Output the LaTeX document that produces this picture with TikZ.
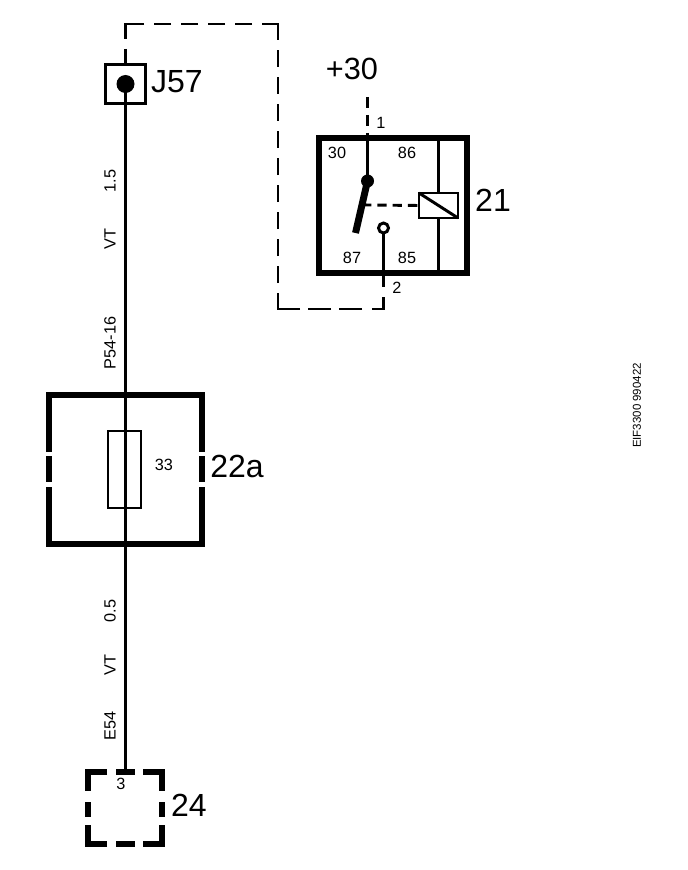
\documentclass[tikz,border=0pt]{standalone}
\usepackage{fontspec}
\setmainfont{Liberation Sans}
\usetikzlibrary{calc}

\begin{document}
\begin{tikzpicture}[x=0.75pt, y=-0.75pt, line cap=butt,
  wire/.style={line width=2.2pt},
  thin box/.style={draw, line width=2.2pt, inner sep=0pt, outer sep=0pt},
  heavy/.style={line width=4.4pt},
  link/.style={line width=2.2pt, dash pattern=on 12.75pt off 7.5pt},
  big/.style={font=\fontsize{24}{24}\selectfont, inner sep=0pt},
  pin/.style={font=\fontsize{12.2}{12.2}\selectfont, inner sep=0pt},
  side/.style={pin, rotate=90}]

\useasboundingbox (0,0) rectangle (688,870);

% --------- Main wire with connection J57 ----------
\node[thin box, line width=2.7pt, minimum width=30pt, minimum height=29.25pt] (j57) at (125.5,84) {};
\coordinate (pin3) at (125.5,772);
\draw[wire] (j57.center) -- (pin3);
\fill (j57.center) circle (9);
\node[big] (j57label) at (177,82) {J57};

% Wire data
\node[side] (size1)  at (110,181) {1.5};
\node[side] (col1)   at (110,239) {VT};
\node[side] (plug1)  at (110,343) {P54-16};
\node[side] (size2)  at (110,611) {0.5};
\node[side] (col2)   at (110,665) {VT};
\node[side] (plug2)  at (110,726) {E54};

% --------- Relay 21 ----------
\node[draw, heavy, minimum width=111pt, minimum height=101.25pt, inner sep=0pt, outer sep=0pt] (relay) at (393,205.5) {};
\coordinate (in)   at (367.5,97);
\coordinate (pivot) at (367.5,181);
\coordinate (armend) at (355.5,233);
\coordinate (armmid) at ($(pivot)!0.46!(armend)$);
\coordinate (top) at (367.5,137);
\coordinate (contact) at (383.5,228);
\coordinate (bottom) at (383.5,287);
\coordinate (turn1) at (383.5,309);
\coordinate (turn2) at (278,309);
\coordinate (turn3) at (278,24);
\coordinate (turn4) at (125.5,24);

\draw[wire, dash pattern=on 8.5pt off 5pt] (in) -- (top);
\draw[wire] (top) -- (pivot);
\fill (pivot) circle (6.5);
\draw[line width=5.2pt] (pivot) -- (armend);

% Coil
\node[thin box, minimum width=29.25pt, minimum height=18.75pt] (coil) at (438.5,205.5) {};
\draw[wire] (coil.north west) -- (coil.south east);
\draw[wire] (438.5,138) -- (coil.north);
\draw[wire] (coil.south) -- (438.5,273);
\draw[wire, dash pattern=on 7pt off 4.5pt] (armmid) -- (coil.west);

% Contact 87
\node[draw, circle, wire, minimum size=7.5pt, inner sep=0pt, outer sep=0pt] (contactring) at (contact) {};
\draw[wire] (contactring.south) -- (bottom);

\node[pin] (t30) at (337,153) {30};
\node[pin] (t86) at (407,153) {86};
\node[pin] (t87) at (352,258) {87};
\node[pin] (t85) at (407,258) {85};
\node[pin] (p1)  at (381,123) {1};
\node[pin] (p2)  at (397,288) {2};
\node[big, font=\fontsize{23}{23}\selectfont] (plus30) at (352,69) {+30};
\node[big] (rlabel) at (493,200) {21};

% --------- Dashed link from relay to J57 ----------
\draw[wire] (383.5,297) -- (turn1) -- (372,309);
\draw[wire, dash pattern=on 17.25pt off 6pt] (362,309) -- (308,309);
\draw[wire] (300,309) -- (turn2) -- (278,293);
\draw[link] (278,283) -- (278,50);
\draw[wire] (278,40) -- (turn3) -- (262,24);
\draw[link] (252,24) -- (143,24);
\draw[wire] (143,24) -- (turn4) -- (125.5,39);
\draw[wire] (125.5,49) -- (j57.north);

% --------- Fuse holder 22a ----------
\draw[heavy] (49,452) -- (49,395) -- (202,395) -- (202,452);
\draw[heavy] (49,456) -- (49,482);
\draw[heavy] (202,456) -- (202,482);
\draw[heavy] (49,487) -- (49,544) -- (202,544) -- (202,487);
\node[thin box, minimum width=24.75pt, minimum height=57.75pt] (fuse) at (124.5,469.5) {};
\node[pin] (fusenr) at (164,465) {33};
\node[big] (flabel) at (237,466) {22a};

% --------- Control unit 24 ----------
\foreach \a/\b in {88/772, 162/772, 88/844, 162/844}{
  \pgfmathsetmacro{\dx}{\a<100 ? 19 : -19}
  \pgfmathsetmacro{\dy}{\b<800 ? 19 : -19}
  \draw[heavy, line join=miter] (\a+\dx,\b) -- (\a,\b) -- (\a,\b+\dy);
}
\draw[heavy] (116,772) -- (135,772);
\draw[heavy] (116,844) -- (135,844);
\draw[heavy] (88,802) -- (88,817);
\draw[heavy] (162,802) -- (162,817);
\node[pin] (unitpin) at (121,784) {3};
\node[big] (ulabel) at (189,805) {24};

% --------- Drawing number ----------
\node[font=\fontsize{8.6}{8.6}\selectfont, inner sep=0pt, rotate=90] (docnr) at (637,405.5) {EIF3300 990422};

\end{tikzpicture}
\end{document}
